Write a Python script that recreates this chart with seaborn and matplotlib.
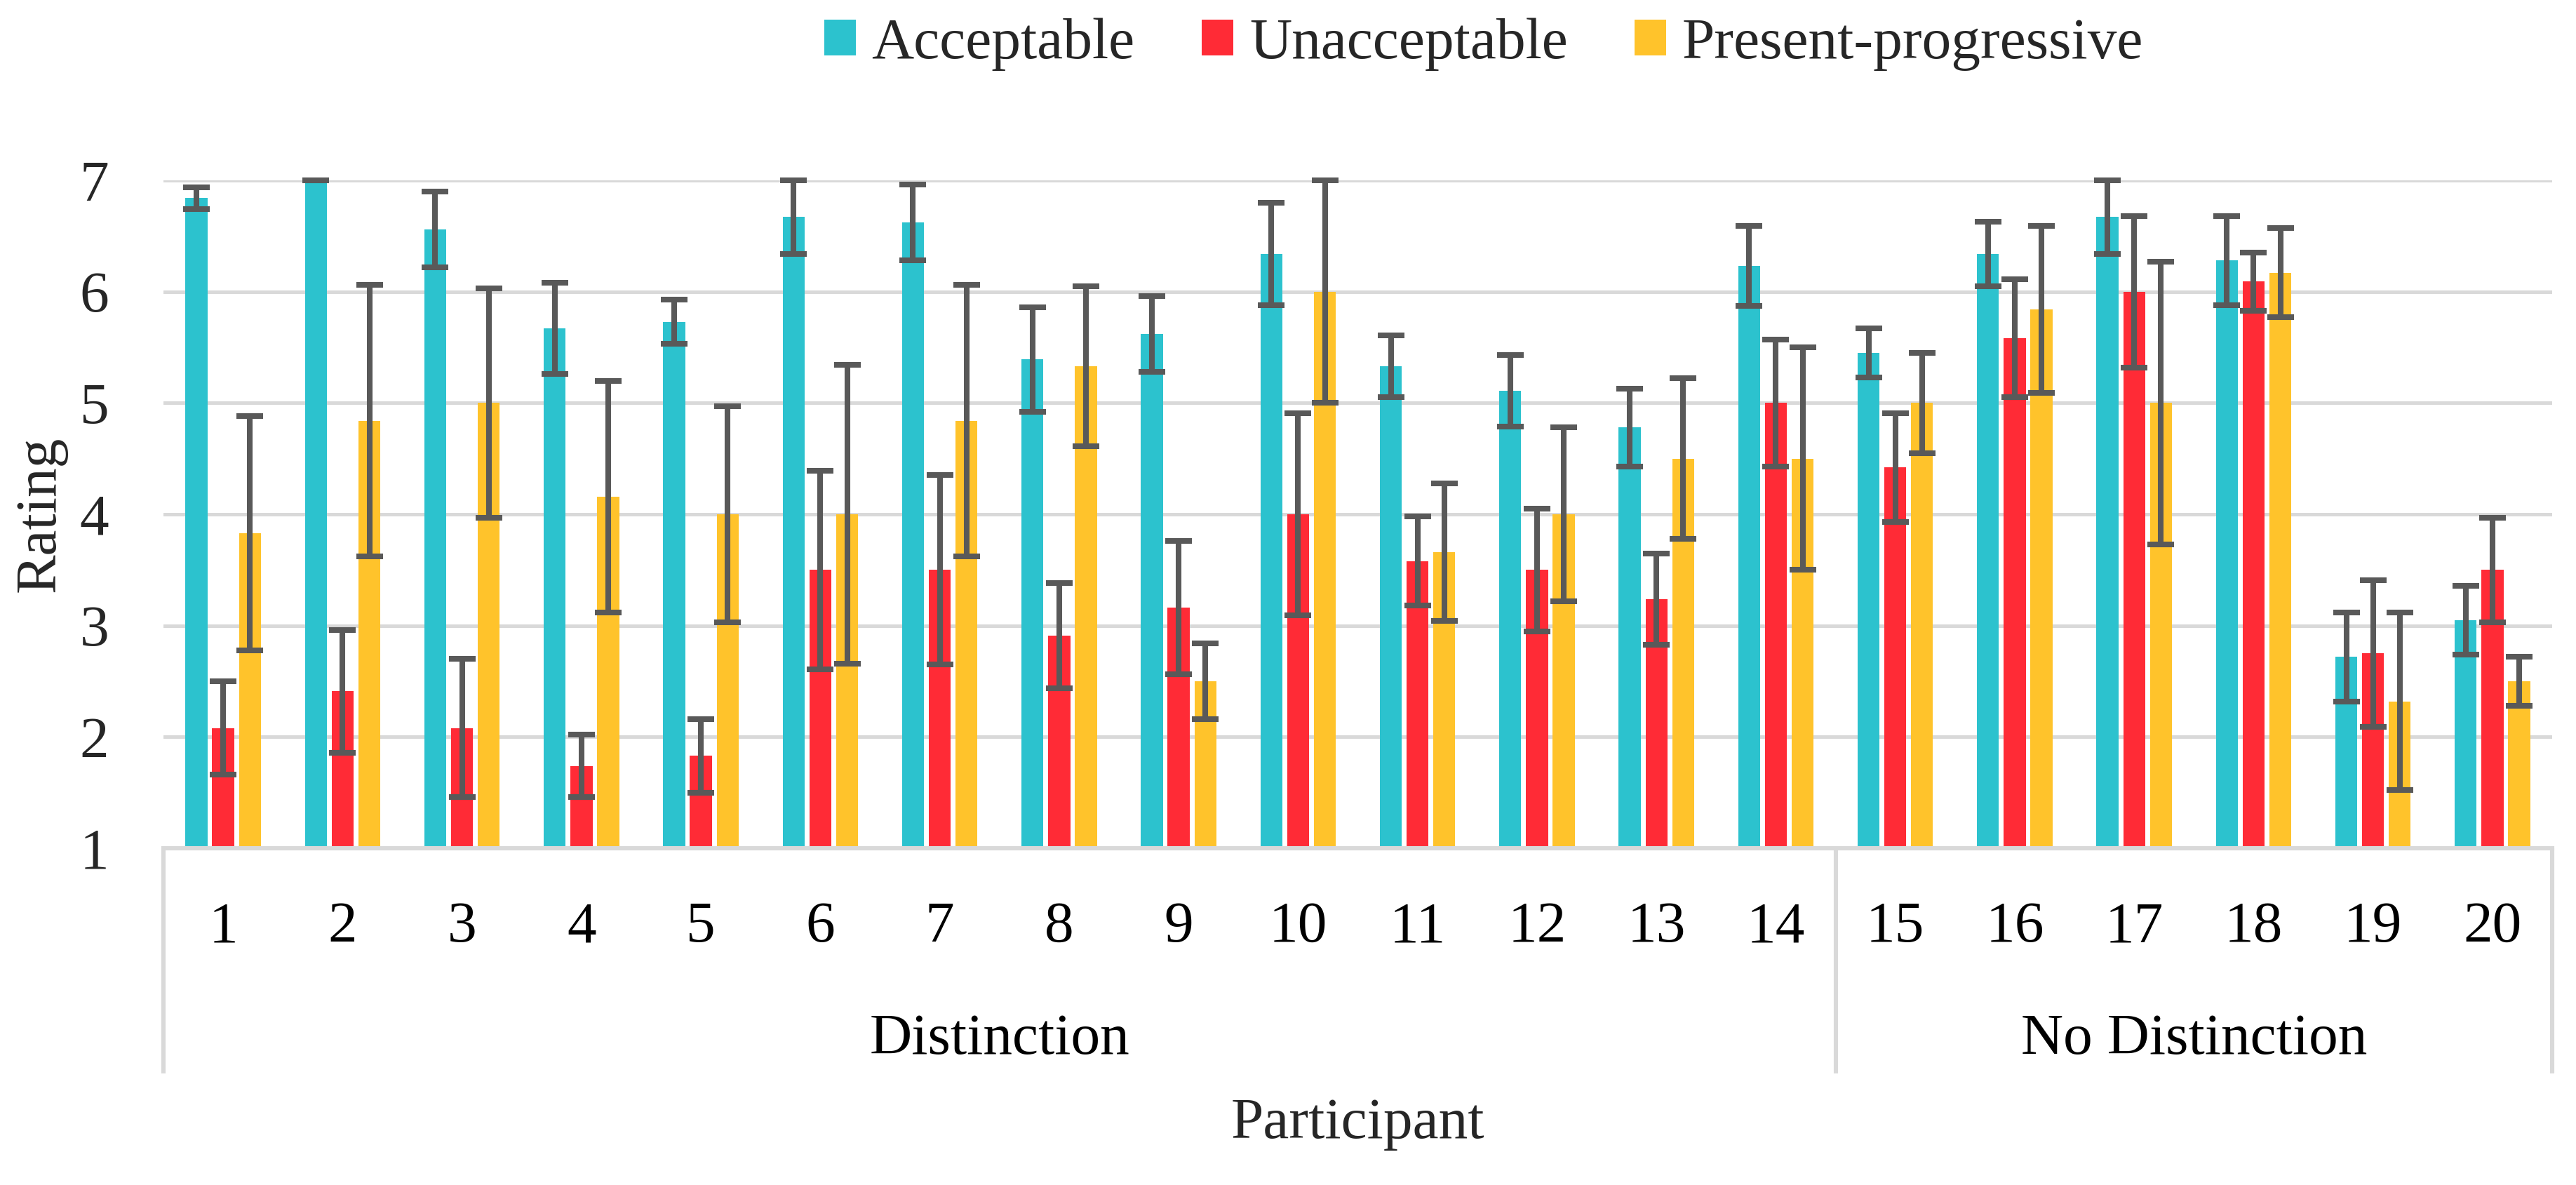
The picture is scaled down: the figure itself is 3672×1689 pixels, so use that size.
import matplotlib
matplotlib.use("Agg")
import matplotlib.pyplot as plt
import matplotlib.transforms as mtransforms
import seaborn as sns
import pandas as pd
import numpy as np

# ---------------- data ----------------
participants = ["1", "2", "3", "4", "5", "6", "7", "8", "9", "10",
                "11", "12", "13", "14", "15", "16", "17", "18", "19", "20"]
group_names = ["Distinction", "No Distinction"]
group_sizes = [14, 6]
conditions = ["Acceptable", "Unacceptable", "Present-progressive"]

acceptable = [6.84, 7.00, 6.56, 5.67, 5.73, 6.67, 6.62, 5.39, 5.62, 6.34,
              5.33, 5.11, 4.78, 6.23, 5.45, 6.34, 6.67, 6.28, 2.72, 3.05]
acceptable_err = [0.10, 0.00, 0.34, 0.41, 0.20, 0.33, 0.34, 0.47, 0.34, 0.46,
                  0.28, 0.32, 0.35, 0.36, 0.22, 0.29, 0.33, 0.40, 0.40, 0.31]
unacceptable = [2.08, 2.41, 2.08, 1.74, 1.83, 3.50, 3.50, 2.91, 3.16, 4.00,
                3.58, 3.50, 3.24, 5.00, 4.42, 5.58, 6.00, 6.09, 2.75, 3.50]
unacceptable_err = [0.42, 0.55, 0.62, 0.28, 0.33, 0.89, 0.85, 0.47, 0.60, 0.91,
                    0.40, 0.55, 0.41, 0.57, 0.49, 0.53, 0.68, 0.26, 0.66, 0.47]
present_progressive = [3.83, 4.84, 5.00, 4.16, 4.00, 4.00, 4.84, 5.33, 2.50, 6.00,
                       3.66, 4.00, 4.50, 4.50, 5.00, 5.84, 5.00, 6.17, 2.32, 2.50]
present_progressive_err = [1.05, 1.22, 1.03, 1.04, 0.97, 1.34, 1.22, 0.72, 0.34, 1.00,
                           0.62, 0.78, 0.72, 1.00, 0.45, 0.75, 1.27, 0.40, 0.80, 0.22]
y_ticks = [1, 2, 3, 4, 5, 6, 7]

colors = ["#2CC2CE", "#FF2B36", "#FFC32B"]
err_color = "#595959"
grid_color = "#D9D9D9"

values = {"Acceptable": acceptable, "Unacceptable": unacceptable,
          "Present-progressive": present_progressive}
errors = {"Acceptable": acceptable_err, "Unacceptable": unacceptable_err,
          "Present-progressive": present_progressive_err}

df = pd.DataFrame({
    "Participant": participants * 3,
    "Condition": sum([[c] * len(participants) for c in conditions], []),
    "Rating": acceptable + unacceptable + present_progressive,
})

# ---------------- style ----------------
sns.set_style("white")
plt.rcParams["font.family"] = ["Liberation Serif", "DejaVu Serif"]
FS = 30

fig = plt.figure(figsize=(18.36, 8.445), dpi=200)
ax = fig.add_axes([0.06345, 0.2842, 0.9273, 0.5636])

sns.barplot(data=df, x="Participant", y="Rating", hue="Condition",
            order=participants, hue_order=conditions, palette=colors,
            width=0.672, gap=0.18, errorbar=None, saturation=1,
            linewidth=0, ax=ax, zorder=2)

# error bars at the bar centres
for cond, cont in zip(conditions, ax.containers):
    xs = [p.get_x() + p.get_width() / 2 for p in cont.patches]
    ax.errorbar(xs, values[cond], yerr=errors[cond], fmt="none",
                ecolor=err_color, elinewidth=2.9, capsize=6.8, capthick=2.9,
                zorder=4, clip_on=False)

ax.set_ylim(1, 7)
ax.set_xlim(-0.5, len(participants) - 0.5)
ax.set_yticks(y_ticks)
ax.set_yticklabels([str(t) for t in y_ticks], fontsize=FS)
ax.tick_params(axis="y", length=0, pad=28)
ax.tick_params(axis="x", length=0, labelbottom=False)
ax.yaxis.grid(True, color=grid_color, linewidth=1.8)
ax.xaxis.grid(False)
ax.set_axisbelow(True)
for s in ["left", "right", "top"]:
    ax.spines[s].set_visible(False)
ax.spines["bottom"].set_color(grid_color)
ax.spines["bottom"].set_linewidth(2.2)

# multi-level category axis
trans = mtransforms.blended_transform_factory(ax.transData, ax.transAxes)
for i, lab in enumerate(participants):
    ax.text(i, -0.140, lab, transform=trans, ha="center", va="baseline",
            fontsize=FS, color="black")
start = -0.5
edges = [start]
for name, size in zip(group_names, group_sizes):
    end = start + size
    ax.text((start + end) / 2, -0.308, name, transform=trans, ha="center",
            va="baseline", fontsize=FS, color="black")
    edges.append(end)
    start = end
for e in edges:
    ax.plot([e, e], [0, -0.337], transform=trans, color=grid_color,
            linewidth=2.2, clip_on=False, solid_capstyle="butt")

ax.set_xlabel("Participant", fontsize=FS)
ax.xaxis.set_label_coords(0.5, -0.434)
ax.xaxis.label.set_va("baseline")
ax.set_ylabel("Rating", fontsize=FS)
ax.yaxis.set_label_coords(-0.0514, 0.5)
ax.yaxis.label.set_va("center")

# legend
handles, labels = ax.get_legend_handles_labels()
ax.legend(handles, labels, loc="center", bbox_to_anchor=(0.576, 0.9627),
          bbox_transform=fig.transFigure, ncol=3, frameon=False,
          fontsize=FS, handlelength=0.54, handleheight=0.56,
          handletextpad=0.27, columnspacing=1.15, borderaxespad=0)

fig.savefig("out.png", dpi=200, facecolor="white")
